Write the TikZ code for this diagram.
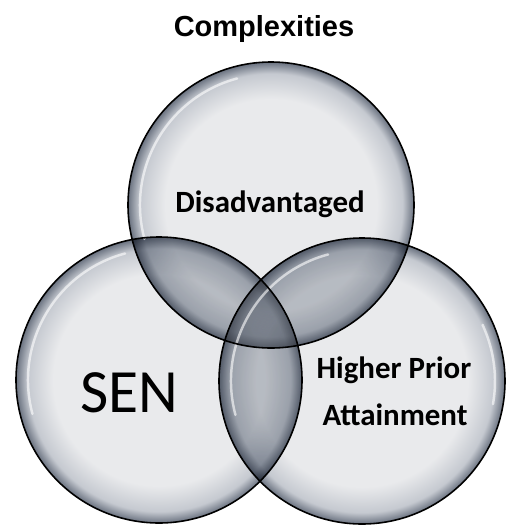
\documentclass[tikz,border=0pt]{standalone}
\usepackage{fontspec}
\setmainfont{Carlito}
\newfontfamily\headfont{Liberation Sans}
\definecolor{bubblein}{HTML}{E9EAEC}
\definecolor{bubblemid}{HTML}{C5C9D0}
\definecolor{bubbleout}{HTML}{6A7280}
\definecolor{lens}{HTML}{DCDFE3}
\pgfdeclareradialshading{bubble}{\pgfpointorigin}{color(0bp)=(bubblein); color(18.5bp)=(bubblein); color(23bp)=(bubblemid); color(25bp)=(bubbleout); color(50bp)=(bubbleout)}
\begin{document}
\begin{tikzpicture}[x=0.02cm,y=-0.02cm,
  ball/.style={shading=bubble},
  rim/.style={draw=black,line width=0.9pt},
  shine/.style={draw=white,line width=1.4pt,opacity=0.6,line cap=round},
  lbl/.style={anchor=base,inner sep=0pt}]
\useasboundingbox (0,0) rectangle (512,525);
\coordinate (dis) at (271,205);
\coordinate (sen) at (159,380);
\coordinate (hpa) at (362,381);
% glass bubbles, overlaps get darker
\begin{scope}[blend mode=multiply]
\shade[ball] (dis) circle (143);
\shade[ball] (sen) circle (143);
\shade[ball] (hpa) circle (143);
\begin{scope}
\clip (dis) circle (143);
\fill[lens] (sen) circle (143);
\fill[lens] (hpa) circle (143);
\end{scope}
\begin{scope}
\clip (sen) circle (143);
\fill[lens] (hpa) circle (143);
\end{scope}
\end{scope}
\begin{scope}
\clip (dis) circle (143);
\clip (sen) circle (143);
\fill[white,opacity=0.15] (hpa) circle (143);
\end{scope}
% highlights
\draw[shine] (dis) ++(-105:131) arc[start angle=-105,end angle=-195,radius=131];
\draw[shine] (sen) ++(-105:131) arc[start angle=-105,end angle=-195,radius=131];
\draw[shine] (hpa) ++(-105:131) arc[start angle=-105,end angle=-195,radius=131];
\draw[shine] (hpa) ++(10:133) arc[start angle=10,end angle=-25,radius=133];
% outlines
\draw[rim] (dis) circle (143);
\draw[rim] (sen) circle (143);
\draw[rim] (hpa) circle (143);
% labels
\node[lbl,font=\headfont\bfseries\fontsize{16.5}{20}\selectfont] (title) at (264,36) {Complexities};
\node[lbl,font=\bfseries\fontsize{17.6}{21}\selectfont] (tdis) at (270,212) {Disadvantaged};
\node[lbl,font=\fontsize{35}{42}\selectfont] (tsen) at (129,412) {SEN};
\node[lbl,font=\bfseries\fontsize{17.6}{21}\selectfont] (thpa) at (394,378) {Higher Prior};
\node[lbl,font=\bfseries\fontsize{17.6}{21}\selectfont] (thpb) at (395,425) {Attainment};
\end{tikzpicture}
\end{document}
